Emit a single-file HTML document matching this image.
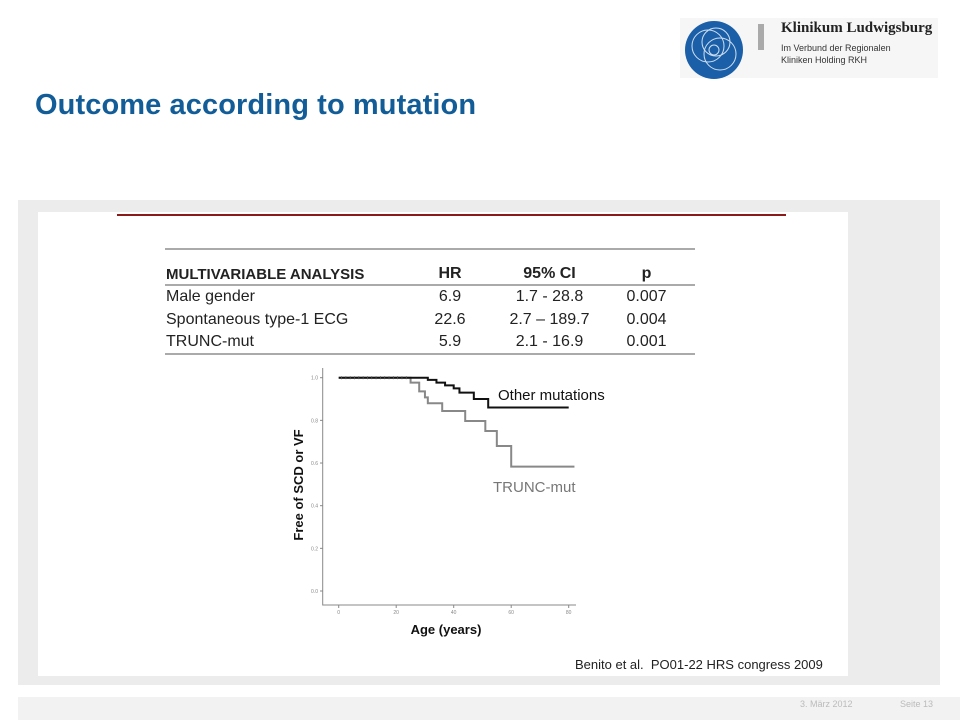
<!DOCTYPE html>
<html><head><meta charset="utf-8"><style>
body{margin:0;width:960px;height:720px;position:relative;background:#fff;font-family:"Liberation Sans",sans-serif;overflow:hidden}
.abs{position:absolute}
table{border-collapse:collapse;font-family:"Liberation Sans Narrow","Liberation Sans",sans-serif;font-size:16px;color:#222}
</style></head><body>
<div class="abs" style="left:35px;top:89px;font-size:29px;line-height:33px;font-weight:bold;color:#125d98;letter-spacing:0.1px">Outcome according to mutation</div>
<div class="abs" style="left:680px;top:18px;width:258px;height:60px;background:#f6f6f6">
 <svg width="70" height="64" style="position:absolute;left:2px;top:-2px"><circle cx="32" cy="34" r="29" fill="#1b5fa8"/><circle cx="26" cy="30" r="16" fill="none" stroke="#cfe0f0" stroke-width="1"/><circle cx="38" cy="38" r="16" fill="none" stroke="#cfe0f0" stroke-width="1"/><circle cx="34" cy="26" r="14" fill="none" stroke="#cfe0f0" stroke-width="1"/><circle cx="32" cy="34" r="5" fill="none" stroke="#cfe0f0"/></svg>
 <div class="abs" style="left:78px;top:6px;width:6px;height:26px;background:#aaa"></div>
 <div class="abs" style="left:101px;top:2px;font-family:'Liberation Serif',serif;font-weight:bold;font-size:15px;color:#222">Klinikum Ludwigsburg</div>
 <div class="abs" style="left:101px;top:24px;font-size:9px;color:#333;line-height:12px">Im Verbund der Regionalen<br>Kliniken Holding RKH</div>
</div>
<div class="abs" style="left:18px;top:200px;width:922px;height:485px;background:#ececec"></div>
<div class="abs" style="left:38px;top:212px;width:810px;height:464px;background:#fff"></div>
<div class="abs" style="left:117px;top:214px;width:669px;height:2px;background:#8b1a1a"></div>
<table class="abs" style="left:165px;top:248px;width:530px;border-top:2px solid #aaa;border-bottom:2px solid #aaa">
<tr style="height:36px;border-bottom:2px solid #aaa;vertical-align:bottom"><th style="text-align:left;font-size:15px">MULTIVARIABLE ANALYSIS</th><th style="width:100px">HR</th><th style="width:95px">95% CI</th><th style="width:95px">p</th></tr>
<tr style="height:23px"><td>Male gender</td><td align="center">6.9</td><td align="center">1.7 - 28.8</td><td align="center">0.007</td></tr>
<tr style="height:23px"><td>Spontaneous type-1 ECG</td><td align="center">22.6</td><td align="center">2.7 – 189.7</td><td align="center">0.004</td></tr>
<tr style="height:23px"><td>TRUNC-mut</td><td align="center">5.9</td><td align="center">2.1 - 16.9</td><td align="center">0.001</td></tr>
</table>
<svg class="abs" id="km" style="left:0;top:0" width="960" height="720"></svg>
<div class="abs" style="left:575px;top:657px;font-size:13px;color:#222">Benito et al.&nbsp; PO01-22 HRS congress 2009</div>
<div class="abs" style="left:18px;top:697px;width:942px;height:23px;background:#f2f2f2"></div>
<div class="abs" style="left:800px;top:699px;font-size:9px;color:#bbb">3. März 2012</div>
<div class="abs" style="left:900px;top:699px;font-size:9px;color:#bbb">Seite 13</div>
<script>
const otherAges=[0,31,34,37,40,42,47,52,80];
const otherVals=[1.0,0.99,0.977,0.964,0.95,0.93,0.90,0.86,0.86];
const truncAges=[0,25,28,30,31,36,44,51,55,60,82];
const truncVals=[1.0,0.977,0.936,0.908,0.88,0.844,0.797,0.75,0.68,0.583,0.583];
const xTicks=[0,20,40,60,80];
const yTicks=[0.0,0.2,0.4,0.6,0.8,1.0];
const NS="http://www.w3.org/2000/svg",svg=document.getElementById('km');
const X=a=>338.7+a*2.875, Y=v=>591-v*213.3;
function el(t,at,p){const e=document.createElementNS(NS,t);for(const k in at)e.setAttribute(k,at[k]);(p||svg).appendChild(e);return e;}
const ax=el('path',{d:`M322.7 368V605H576`,stroke:'#888',fill:'none','stroke-width':1});


yTicks.forEach(v=>{el('line',{x1:320,x2:323,y1:Y(v),y2:Y(v),stroke:'#888'});
const t=el('text',{x:318,y:Y(v)+2,'font-size':5,fill:'#888','text-anchor':'end'});t.textContent=v.toFixed(1);

});
xTicks.forEach(a=>{el('line',{x1:X(a),x2:X(a),y1:605,y2:608,stroke:'#888'});
const t=el('text',{x:X(a),y:614,'font-size':5,fill:'#888','text-anchor':'middle'});t.textContent=a;

});
function step(ag,vs,col,w,name){let d=`M${X(ag[0])} ${Y(vs[0])}`;for(let i=1;i<ag.length;i++){d+=`H${X(ag[i])}V${Y(vs[i])}`;}
const p=el('path',{d,stroke:col,'stroke-width':w,fill:'none'});

}
step(truncAges,truncVals,'#888',2,'trunc-mut-curve');
step(otherAges,otherVals,'#111',2,'other-mutations-curve');
for(let a=1;a<25;a+=1.5)el('line',{x1:X(a),x2:X(a),y1:Y(1)-1.5,y2:Y(1)+1.5,stroke:'#555','stroke-width':0.8});
const l1=el('text',{x:498,y:400,'font-size':15,fill:'#111'});l1.textContent='Other mutations';


const l2=el('text',{x:493,y:492,'font-size':15,fill:'#777'});l2.textContent='TRUNC-mut';


const xt=el('text',{x:446,y:634,'font-size':13,'font-weight':'bold',fill:'#111','text-anchor':'middle'});xt.textContent='Age (years)';


const yt=el('text',{x:0,y:0,'font-size':13,'font-weight':'bold',fill:'#111','text-anchor':'middle',transform:'translate(303,485) rotate(-90)'});yt.textContent='Free of SCD or VF';


</script>
</body></html>
